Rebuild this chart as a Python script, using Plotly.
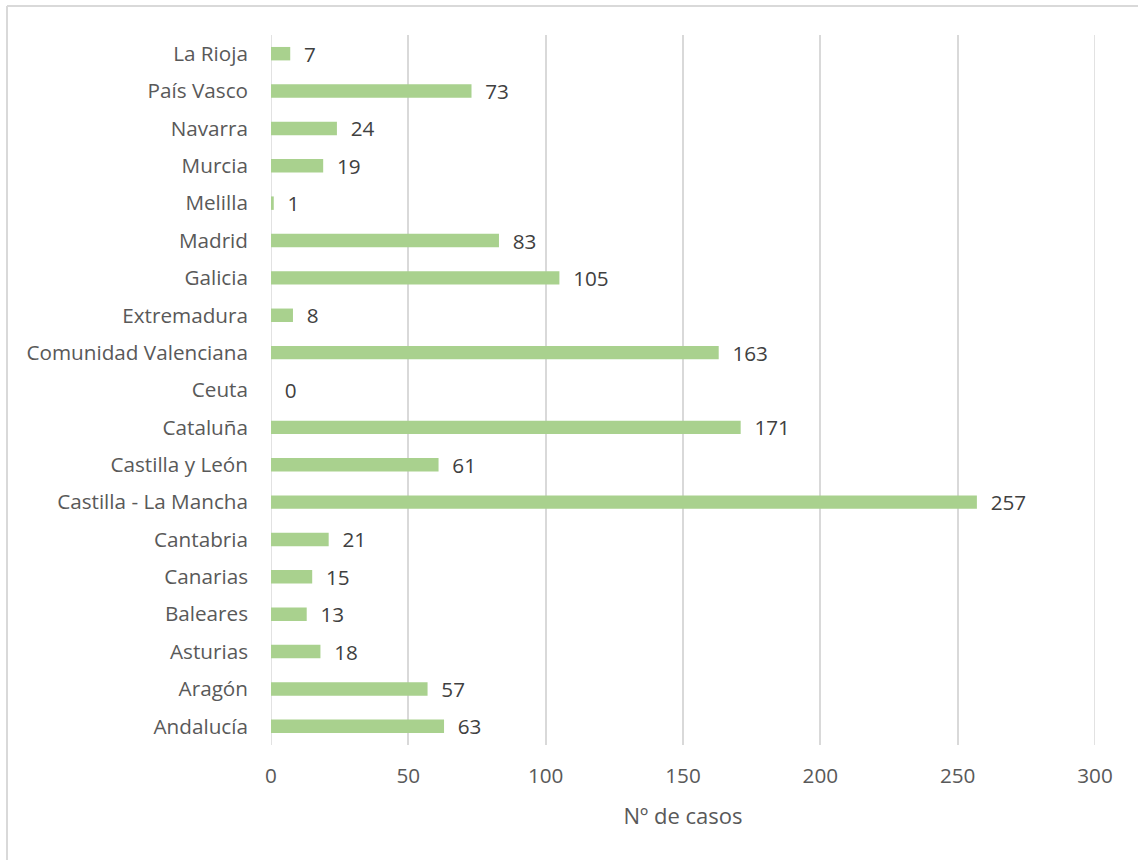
import plotly.graph_objects as go

# Casos por comunidad autónoma (de abajo arriba)
regiones = [
    "Andalucía", "Aragón", "Asturias", "Baleares", "Canarias", "Cantabria",
    "Castilla - La Mancha", "Castilla y León", "Cataluña", "Ceuta",
    "Comunidad Valenciana", "Extremadura", "Galicia", "Madrid", "Melilla",
    "Murcia", "Navarra", "País Vasco", "La Rioja",
]
casos = [63, 57, 18, 13, 15, 21, 257, 61, 171, 0, 163, 8, 105, 83, 1, 19, 24, 73, 7]
ticks_x = [0, 50, 100, 150, 200, 250, 300]

W, H = 1138, 860
L, R, T, B = 271, 43, 35, 115
pw, ph = W - L - R, H - T - B

fuente = "Open Sans, Calibri, sans-serif"
gris = "#595959"
rejilla = "#D9D9D9"
tam = 20.7

fig = go.Figure(
    go.Bar(
        y=regiones,
        x=casos,
        orientation="h",
        width=0.36,
        marker=dict(color="#A9D18E", line=dict(width=0)),
        text=["\u00a0\u00a0" + str(v) for v in casos],
        textposition="outside",
        constraintext="none",
        cliponaxis=False,
        textfont=dict(family=fuente, size=tam, color="#404040"),
    )
)

fig.update_layout(
    width=W,
    height=H,
    margin=dict(l=L, r=R, t=T, b=B),
    plot_bgcolor="white",
    paper_bgcolor="white",
    showlegend=False,
    font=dict(family=fuente, size=tam, color=gris),
    xaxis=dict(
        range=[0, 300],
        tickvals=ticks_x,
        showgrid=True,
        gridcolor=rejilla,
        gridwidth=1.5,
        zeroline=False,
        showline=False,
        ticks="",
        ticklabelstandoff=16,
        tickfont=dict(size=tam, color=gris),
        title=dict(text="Nº de casos", font=dict(size=22, color=gris), standoff=20),
    ),
    yaxis=dict(
        categoryorder="array",
        categoryarray=regiones,
        range=[-0.5, len(regiones) - 0.5],
        showgrid=False,
        zeroline=False,
        showline=False,
        ticks="",
        ticklabelstandoff=22,
        tickfont=dict(size=tam, color=gris),
    ),
)

# Líneas de rejilla en los extremos del eje (Plotly no las dibuja en el borde)
for xv in (ticks_x[0], ticks_x[-1]):
    fig.add_shape(type="line", xref="x", yref="paper", layer="below",
                  x0=xv, x1=xv, y0=0, y1=1,
                  line=dict(color=rejilla, width=1.5))

# Marco exterior del gráfico (bordes superior e izquierdo visibles)
x_izq = (7 - L) / pw
y_sup = 1 + (T - 6) / ph
fig.add_shape(type="line", xref="paper", yref="paper",
              x0=x_izq, x1=(W + 10 - L) / pw, y0=y_sup, y1=y_sup,
              line=dict(color=rejilla, width=2))
fig.add_shape(type="line", xref="paper", yref="paper",
              x0=x_izq, x1=x_izq, y0=y_sup, y1=-(B + 10) / ph,
              line=dict(color=rejilla, width=2))

fig.write_html("out.html")
